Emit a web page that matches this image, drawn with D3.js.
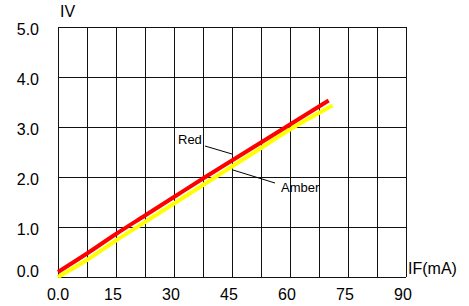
<!DOCTYPE html>
<html>
<head>
<meta charset="utf-8">
<script src="https://cdn.jsdelivr.net/npm/d3@7"></script>
<style>
  body { margin: 0; background: #fff; }
  svg { display: block; font-family: "Liberation Sans", Arial, sans-serif; }
</style>
</head>
<body>
<script>
  //-----------------------------DATA------------------------------//
  const redIF = [0, 7.5, 15, 22.5, 30, 37.5, 45, 52.5, 60, 70];
  const redIV = [0.1, 0.47, 0.86, 1.23, 1.6, 1.97, 2.33, 2.69, 3.05, 3.53];
  const amberIF = [0, 7.5, 15, 22.5, 30, 37.5, 45, 52.5, 60, 71];
  const amberIV = [0, 0.34, 0.73, 1.1, 1.47, 1.84, 2.21, 2.58, 2.95, 3.43];
  const xTicks = [0, 15, 30, 45, 60, 75, 90];
  const xTickLabels = ["0.0", "15", "30", "45", "60", "75", "90"];
  const yTicks = [0, 1, 2, 3, 4, 5];
  const yTickLabels = ["0.0", "1.0", "2.0", "3.0", "4.0", "5.0"];

  //-----------------------------SVG------------------------------//
  const width = 469;
  const height = 306;
  const svg = d3.select("body").append("svg")
    .attr("width", width)
    .attr("height", height);

  //----------------------------SCALES-----------------------------//
  const x = d3.scaleLinear().domain([0, 90]).range([58, 406]);
  const y = d3.scaleLinear().domain([0, 5]).range([277, 27]);

  //-----------------------------GRID------------------------------//
  const grid = svg.append("g")
    .attr("stroke", "#111")
    .attr("stroke-width", 1)
    .attr("shape-rendering", "crispEdges");

  grid.selectAll("line.v")
    .data(d3.range(0, 90.01, 7.5))
    .enter().append("line")
    .attr("class", "v")
    .attr("x1", d => x(d)).attr("x2", d => x(d))
    .attr("y1", y(5)).attr("y2", y(0));

  grid.selectAll("line.h")
    .data(yTicks)
    .enter().append("line")
    .attr("class", "h")
    .attr("x1", x(0)).attr("x2", x(90))
    .attr("y1", d => y(d)).attr("y2", d => y(d));

  //-----------------------------AXES------------------------------//
  svg.append("g").selectAll("text")
    .data(yTicks)
    .enter().append("text")
    .attr("x", 39)
    .attr("y", d => y(d) + (d === 0 ? 0 : 8))
    .attr("text-anchor", "end")
    .attr("font-size", 16)
    .text((d, i) => yTickLabels[i]);

  svg.append("g").selectAll("text")
    .data(xTicks)
    .enter().append("text")
    .attr("x", d => x(d) - (d === 0 ? 0 : 3))
    .attr("y", 300)
    .attr("text-anchor", "middle")
    .attr("font-size", 16)
    .text((d, i) => xTickLabels[i]);

  svg.append("text")
    .attr("x", 60).attr("y", 17)
    .attr("font-size", 16)
    .text("IV");

  svg.append("text")
    .attr("x", 408).attr("y", 274)
    .attr("font-size", 16)
    .text("IF(mA)");

  //----------------------------LINES------------------------------//
  const line = d3.line()
    .curve(d3.curveMonotoneX)
    .x(d => x(d[0]))
    .y(d => y(d[1]));

  svg.append("path")
    .datum(d3.zip(amberIF, amberIV))
    .attr("d", line)
    .attr("fill", "none")
    .attr("stroke", "#ffff00")
    .attr("stroke-width", 4);

  svg.append("path")
    .datum(d3.zip(redIF, redIV))
    .attr("d", line)
    .attr("fill", "none")
    .attr("stroke", "#ff0000")
    .attr("stroke-width", 4);

  //----------------------------LABELS------------------------------//
  svg.append("text")
    .attr("x", 178).attr("y", 144)
    .attr("font-size", 13)
    .text("Red");
  svg.append("line")
    .attr("x1", 205).attr("y1", 146)
    .attr("x2", 232).attr("y2", 154)
    .attr("stroke", "#000").attr("stroke-width", 1);

  svg.append("text")
    .attr("x", 281).attr("y", 192)
    .attr("font-size", 13)
    .text("Amber");
  svg.append("line")
    .attr("x1", 233).attr("y1", 170)
    .attr("x2", 275).attr("y2", 183)
    .attr("stroke", "#000").attr("stroke-width", 1);
</script>
</body>
</html>
